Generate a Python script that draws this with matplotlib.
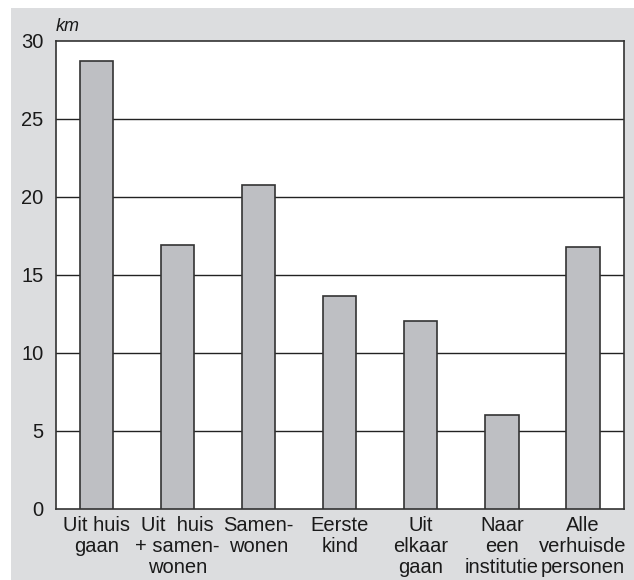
import matplotlib
matplotlib.use("Agg")
import matplotlib.pyplot as plt
from matplotlib.patches import Rectangle

categories = ["Uit huis\ngaan", "Uit  huis\n+ samen-\nwonen", "Samen-\nwonen",
              "Eerste\nkind", "Uit\nelkaar\ngaan", "Naar\neen\ninstitutie",
              "Alle\nverhuisde\npersonen"]
values = [28.7, 16.9, 20.8, 13.65, 12.05, 6.0, 16.8]
yticks = [0, 5, 10, 15, 20, 25, 30]

plt.rcParams['font.family'] = ['Liberation Sans', 'DejaVu Sans']

W, H = 634, 580
fig = plt.figure(figsize=(W/100, H/100), dpi=100, facecolor='white')
fig.patches.append(Rectangle((11/W, 0), 1 - 11/W, 1 - 8/H, transform=fig.transFigure,
                             facecolor='#dcdddf', edgecolor='none', zorder=-10))

ax = fig.add_axes([56/W, 1 - 509/H, (623.5-56)/W, (509-41)/H])
ax.set_facecolor('white')
x = list(range(len(categories)))
ax.bar(x, values, width=0.41, color='#bebfc3', edgecolor='#333333', linewidth=1.2, zorder=3)
ax.set_xlim(-0.5, len(categories) - 0.5)
ax.set_ylim(0, 30)
ax.set_yticks(yticks)
for v in yticks[1:-1]:
    ax.axhline(v, color='#222222', linewidth=1.0, zorder=1)
ax.set_xticks(x)
ax.set_xticklabels(categories, fontsize=14.5, linespacing=1.13, color='#1a1a1a')
ax.tick_params(axis='y', labelsize=14.5, length=0, pad=9, labelcolor='#1a1a1a')
ax.tick_params(axis='x', length=0, pad=5)
for s in ax.spines.values():
    s.set_color('#333333')
    s.set_linewidth(1.2)
ax.text(0.0, 1.012, 'km', transform=ax.transAxes, fontsize=13, style='italic',
        ha='left', va='bottom', color='#1a1a1a')

fig.savefig('out.png', dpi=100, facecolor=fig.get_facecolor())
